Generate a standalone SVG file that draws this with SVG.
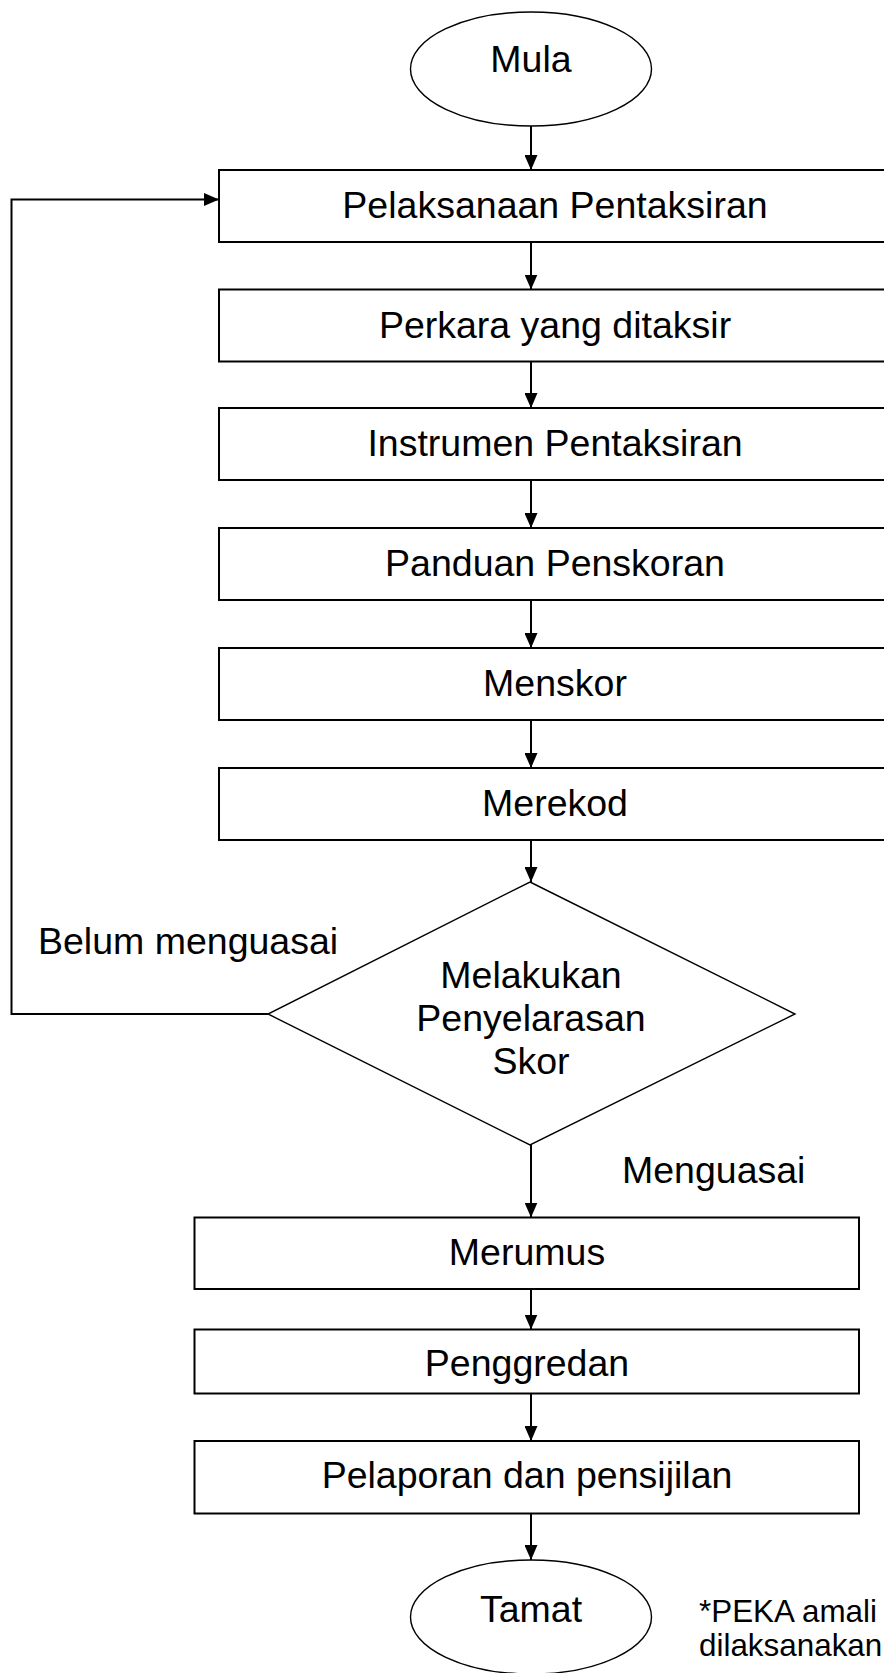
<svg xmlns="http://www.w3.org/2000/svg" width="884" height="1673" viewBox="0 0 884 1673">
<style>
.box{fill:#fff;stroke:#000;stroke-width:2}
.shape{fill:#fff;stroke:#000;stroke-width:1.4}
.ln{fill:none;stroke:#000;stroke-width:2}
text{font-family:"Liberation Sans",Arial,sans-serif;font-size:37.5px;fill:#000}
.c{text-anchor:middle}
.note{font-size:31.4px}
</style>
<defs>
<marker id="ah" viewBox="0 0 15 13" refX="15" refY="6.5" markerWidth="15" markerHeight="13" markerUnits="userSpaceOnUse" orient="auto">
<path d="M0,0 L15,6.5 L0,13 Z" fill="#000"/>
</marker>
</defs>
<rect width="884" height="1673" fill="#fff"/>
<g id="connectors">
<line class="ln" x1="531" y1="126" x2="531" y2="170" marker-end="url(#ah)"/>
<line class="ln" x1="531" y1="242" x2="531" y2="289.5" marker-end="url(#ah)"/>
<line class="ln" x1="531" y1="361.5" x2="531" y2="408" marker-end="url(#ah)"/>
<line class="ln" x1="531" y1="480" x2="531" y2="528" marker-end="url(#ah)"/>
<line class="ln" x1="531" y1="600" x2="531" y2="648" marker-end="url(#ah)"/>
<line class="ln" x1="531" y1="720" x2="531" y2="768" marker-end="url(#ah)"/>
<line class="ln" x1="531" y1="840" x2="531" y2="882" marker-end="url(#ah)"/>
<line class="ln" x1="531" y1="1145" x2="531" y2="1217.5" marker-end="url(#ah)"/>
<line class="ln" x1="531" y1="1289" x2="531" y2="1329.5" marker-end="url(#ah)"/>
<line class="ln" x1="531" y1="1393.5" x2="531" y2="1441" marker-end="url(#ah)"/>
<line class="ln" x1="531" y1="1513.5" x2="531" y2="1560" marker-end="url(#ah)"/>
<polyline class="ln" points="268,1014 11.5,1014 11.5,199.5 219,199.5" marker-end="url(#ah)"/>
<text x="38" y="954">Belum menguasai</text>
<text x="622" y="1183">Menguasai</text>
</g>
<g id="mula"><ellipse class="shape" cx="531" cy="69" rx="120.5" ry="57"/><text class="c" x="531" y="72">Mula</text></g>
<g id="n1"><rect class="box" x="219" y="170" width="672" height="72"/><text class="c" x="555" y="218">Pelaksanaan Pentaksiran</text></g>
<g id="n2"><rect class="box" x="219" y="289.5" width="672" height="72"/><text class="c" x="555" y="337.5">Perkara yang ditaksir</text></g>
<g id="n3"><rect class="box" x="219" y="408" width="672" height="72"/><text class="c" x="555" y="456">Instrumen Pentaksiran</text></g>
<g id="n4"><rect class="box" x="219" y="528" width="672" height="72"/><text class="c" x="555" y="576">Panduan Penskoran</text></g>
<g id="n5"><rect class="box" x="219" y="648" width="672" height="72"/><text class="c" x="555" y="696">Menskor</text></g>
<g id="n6"><rect class="box" x="219" y="768" width="672" height="72"/><text class="c" x="555" y="816">Merekod</text></g>
<g id="decision"><polygon class="shape" points="530,882 795,1014 530,1145 268,1014"/>
<text class="c" x="531" y="988">Melakukan</text>
<text class="c" x="531" y="1031">Penyelarasan</text>
<text class="c" x="531" y="1074">Skor</text></g>
<g id="n7"><rect class="box" x="194.5" y="1217.5" width="664.5" height="71.5"/><text class="c" x="527" y="1265">Merumus</text></g>
<g id="n8"><rect class="box" x="194.5" y="1329.5" width="664.5" height="64"/><text class="c" x="527" y="1376">Penggredan</text></g>
<g id="n9"><rect class="box" x="194.5" y="1441" width="664.5" height="72.5"/><text class="c" x="527" y="1488">Pelaporan dan pensijilan</text></g>
<g id="tamat"><ellipse class="shape" cx="531" cy="1617" rx="120.5" ry="57"/><text class="c" x="531" y="1622">Tamat</text></g>
<g id="note"><text class="note" x="699" y="1622">*PEKA amali</text><text class="note" x="699" y="1656">dilaksanakan</text></g>
</svg>
